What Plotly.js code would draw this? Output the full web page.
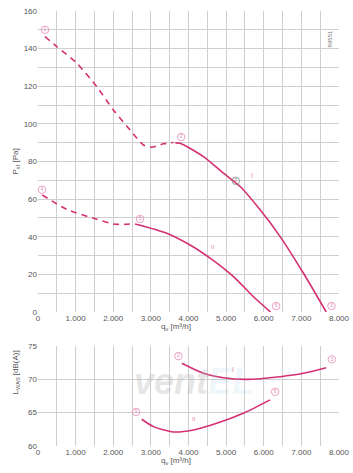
<!DOCTYPE html>
<html><head><meta charset="utf-8">
<script src="https://cdn.plot.ly/plotly-3.0.1.min.js"></script>
<style>html,body{margin:0;padding:0;background:#fff}#c{width:353px;height:473px}</style>
</head><body><div id="c"></div>
<script>
// Pressure curves (q_v in m³/h, p_sf in Pa)
const p1DashQ = [186, 497, 1029, 1561, 2003, 2447, 2801, 3024, 3333, 3599];
const p1DashP = [146.4, 141.1, 132.3, 119.8, 107.4, 96.8, 88.8, 87.6, 89.4, 90.1];
const p1Q = [3650, 3777, 4396, 4928, 5372, 5904, 6436, 7056, 7660];
const p1P = [89.9, 89.7, 82.6, 73.8, 66.7, 54.3, 40.1, 20.6, 0];
const p2DashQ = [114, 763, 1561, 2003, 2300, 2535];
const p2DashP = [62.2, 54.6, 49.3, 46.8, 46.6, 47.0];
const p2Q = [2580, 3422, 4043, 4574, 5195, 5727, 6180];
const p2P = [46.8, 41.9, 35.6, 28.6, 18.8, 8.1, 0];
// Sound level curves (dB(A))
const s1Q = [3822, 4396, 4928, 5550, 6436, 7056, 7660];
const s1L = [72.36, 70.87, 70.2, 69.97, 70.36, 70.87, 71.7];
const s2Q = [2757, 3067, 3599, 4130, 4750, 5457, 6170];
const s2L = [64.0, 62.9, 62.1, 62.4, 63.4, 64.9, 66.9];
// Operating point markers
const ptLabels = ['1','2','3','4','5','6'];
const ptQ = [186, 3804, 7800, 106, 2713, 6330];
const ptP = [150, 93, 3.2, 65, 49.5, 3.2];
const sPtLabels = ['2','3','5','6'];
const sPtQ = [3732, 7810, 2606, 6303];
const sPtL = [73.45, 72.96, 65.1, 68.1];
const pt7Q = [5257], pt7P = [69.7];
// Axis ticks
const xTickVals = [0,500,1000,1500,2000,2500,3000,3500,4000,4500,5000,5500,6000,6500,7000,7500,8000];
const xTickText = ['0','','1.000','','2.000','','3.000','','4.000','','5.000','','6.000','','7.000','','8.000'];
const pTickVals = [0,10,20,30,40,50,60,70,80,90,100,110,120,130,140,150,160];
const pTickText = ['0','','20','','40','','60','','80','','100','','120','','140','','160'];
const lTickVals = [60,65,70,75];
const lTickText = ['60','65','70','75'];

const LC = '#d42f72', PC = '#e58ab3', GRID = '#cfcfcf', TXT = '#555';
const F = 'Liberation Sans, Arial, sans-serif';

function line(x, y, xa, ya, dash) {
  return {x, y, xaxis: xa, yaxis: ya, mode: 'lines', line: {color: LC, width: 1.6, dash: dash ? '6px,5px' : 'solid', shape: 'spline', smoothing: 0.7}, hoverinfo: 'skip', showlegend: false};
}
function pts(x, y, t, xa, ya, col) {
  return {x, y, text: t, xaxis: xa, yaxis: ya, mode: 'markers+text', textposition: 'middle center',
    textfont: {size: 5, color: col, family: F},
    marker: {symbol: 'circle-open', size: 7.5, color: col, line: {width: 0.8, color: col}}, showlegend: false, hoverinfo: 'skip', cliponaxis: false};
}
const data = [
  line(p1DashQ, p1DashP, 'x', 'y', true),
  line(p1Q, p1P, 'x', 'y', false),
  line(p2DashQ, p2DashP, 'x', 'y', true),
  line(p2Q, p2P, 'x', 'y', false),
  line(s1Q, s1L, 'x2', 'y2', false),
  line(s2Q, s2L, 'x2', 'y2', false),
  pts(ptQ, ptP, ptLabels, 'x', 'y', PC),
  pts(pt7Q, pt7P, ['7'], 'x', 'y', '#888'),
  pts(sPtQ, sPtL, sPtLabels, 'x2', 'y2', PC)
];
const axX = {range: [0, 8000], tickvals: xTickVals, ticktext: xTickText, showgrid: true, gridcolor: GRID, gridwidth: 1,
  zeroline: false, showline: false, ticks: '', tickfont: {size: 8, color: TXT, family: F}, fixedrange: true};
const layout = {
  width: 353, height: 473, paper_bgcolor: '#fff', plot_bgcolor: '#fff',
  margin: {l: 38, r: 14, t: 11, b: 27},
  showlegend: false,
  xaxis: Object.assign({}, axX, {anchor: 'y'}),
  yaxis: {domain: [0.308, 1], range: [0, 160], tickvals: pTickVals, ticktext: pTickText, showgrid: true, gridcolor: GRID,
    zeroline: false, ticks: '', tickfont: {size: 8, color: TXT, family: F}, fixedrange: true},
  xaxis2: Object.assign({}, axX, {anchor: 'y2'}),
  yaxis2: {domain: [0, 0.2306], range: [60, 75], tickvals: lTickVals, ticktext: lTickText, showgrid: true, gridcolor: GRID,
    zeroline: false, ticks: '', tickfont: {size: 8, color: TXT, family: F}, fixedrange: true},
  annotations: [
    {text: '<b><i>vent</i></b><b><i><span style="color:rgba(160,205,235,0.5)">EL</span></i></b>', xref: 'x2', yref: 'y2', x: 4150, y: 69.6, showarrow: false,
      font: {size: 36, color: 'rgba(185,185,185,0.35)', family: F}},
    {text: 'P<sub>sf</sub> [Pa]', xref: 'paper', yref: 'paper', x: -0.095, y: 0.655, textangle: -90, showarrow: false, font: {size: 8, color: TXT, family: F}},
    {text: 'q<sub>v</sub> [m³/h]', xref: 'paper', yref: 'paper', x: 0.458, y: 0.257, showarrow: false, font: {size: 8, color: TXT, family: F}},
    {text: 'L<sub>WAS</sub> [dB(A)]', xref: 'paper', yref: 'paper', x: -0.095, y: 0.115, textangle: -90, showarrow: false, font: {size: 8, color: TXT, family: F}},
    {text: 'q<sub>v</sub> [m³/h]', xref: 'paper', yref: 'paper', x: 0.458, y: -0.05, showarrow: false, font: {size: 8, color: TXT, family: F}},
    {text: '89551', xref: 'paper', yref: 'paper', x: 0.985, y: 0.96, textangle: -90, showarrow: false, font: {size: 6, color: '#777', family: F}},
    {text: 'I', xref: 'x', yref: 'y', x: 5683, y: 72.5, showarrow: false, font: {size: 7, color: PC, family: F}},
    {text: 'II', xref: 'x', yref: 'y', x: 4664, y: 34.4, showarrow: false, font: {size: 6, color: PC, family: F}},
    {text: 'I', xref: 'x2', yref: 'y2', x: 5195, y: 71.5, showarrow: false, font: {size: 7, color: PC, family: F}},
    {text: 'II', xref: 'x2', yref: 'y2', x: 4149, y: 64, showarrow: false, font: {size: 6, color: PC, family: F}}
  ]
};
Plotly.newPlot('c', data, layout, {staticPlot: true, displayModeBar: false});
</script></body></html>
